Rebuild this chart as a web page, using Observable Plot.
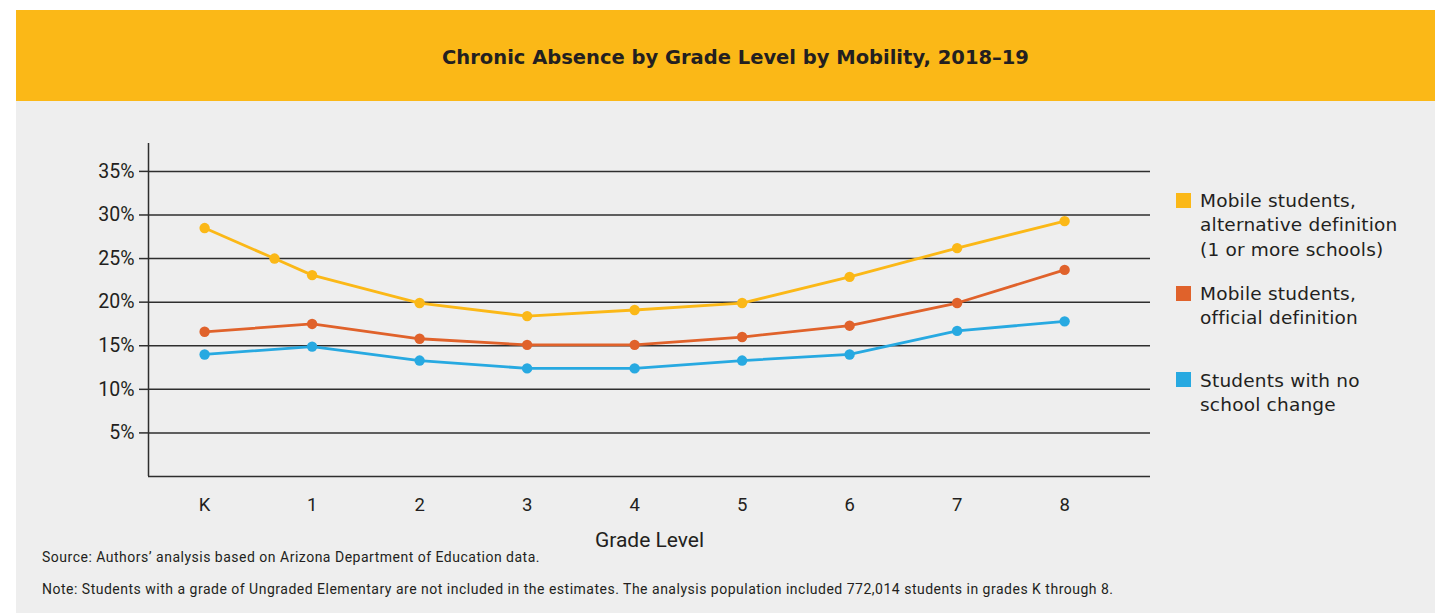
<!DOCTYPE html>
<html>
<head>
<meta charset="utf-8">
<script src="https://cdn.jsdelivr.net/npm/d3@7"></script>
<script src="https://cdn.jsdelivr.net/npm/@observablehq/plot@0.6"></script>
<style>
  html, body { margin: 0; padding: 0; background: #ffffff; }
  body { position: relative; width: 1435px; height: 613px; overflow: hidden; color: #222; }
  #banner { position: absolute; left: 16px; top: 10px; width: 1440px; height: 91px; background: #FBB817; }
  #title { position: absolute; left: 735.5px; top: 57px; transform: translate(-50%, -50%); white-space: nowrap;
           font-family: "DejaVu Sans", sans-serif; font-weight: bold; font-size: 19.5px; color: #231f20; }
  #panel { position: absolute; left: 16px; top: 101px; width: 1440px; height: 520px; background: #EEEEEE; }
  #chart { position: absolute; left: 0; top: 101px; }
  .legend-item { position: absolute; left: 1176px; font-family: "DejaVu Sans", sans-serif; font-size: 18.5px;
                 line-height: 24.3px; letter-spacing: 0.2px; color: #231f20; }
  .legend-item .swatch { position: absolute; left: 0; width: 15px; height: 15px; top: 3.6px; }
  .legend-item .label { margin-left: 24px; }
  .note { position: absolute; left: 42px; font-family: Roboto, sans-serif; font-size: 14px; letter-spacing: 0.5px;
          color: #231f20; white-space: nowrap; }
</style>
</head>
<body>
<div id="banner"></div>
<div id="panel"></div>
<div id="title">Chronic Absence by Grade Level by Mobility, 2018–19</div>
<div id="chart"></div>
<div id="legend"></div>
<div class="note" style="top: 549px;">Source: Authors’ analysis based on Arizona Department of Education data.</div>
<div class="note" style="top: 581px;">Note: Students with a grade of Ungraded Elementary are not included in the estimates. The analysis population included 772,014 students in grades K through 8.</div>
<script>
// Grade levels along the x axis
const grades = ["K", "1", "2", "3", "4", "5", "6", "7", "8"];

// Chronic absence rate (%) by grade for each mobility group
const altDefinition = [28.5, 23.1, 19.9, 18.4, 19.1, 19.9, 22.9, 26.2, 29.3];
const officialDefinition = [16.6, 17.5, 15.8, 15.1, 15.1, 16.0, 17.3, 19.9, 23.7];
const noSchoolChange = [14.0, 14.9, 13.3, 12.4, 12.4, 13.3, 14.0, 16.7, 17.8];

// An additional marker on the alternative-definition line, between K and grade 1
const altExtraGrade = 0.65;
const altExtraValue = 25.0;

// Y-axis tick values (%)
const yTicks = [5, 10, 15, 20, 25, 30, 35];

// Series names (legend order) and their colours
const seriesNames = [
  "Mobile students, alternative definition (1 or more schools)",
  "Mobile students, official definition",
  "Students with no school change"
];
const seriesLegendLines = [
  ["Mobile students,", "alternative definition", "(1 or more schools)"],
  ["Mobile students,", "official definition"],
  ["Students with no", "school change"]
];
const seriesColors = ["#FBB817", "#E0622B", "#27A9E1"];

// Long-format table for Plot
const seriesValues = [altDefinition, officialDefinition, noSchoolChange];
const rows = [];
seriesValues.forEach((values, s) => {
  values.forEach((v, i) => rows.push({ series: seriesNames[s], grade: i, value: v }));
});
rows.push({ series: seriesNames[0], grade: altExtraGrade, value: altExtraValue });
rows.sort((a, b) => a.grade - b.grade);

// Draw back to front: no change, official, alternative
const drawOrder = [seriesNames[2], seriesNames[1], seriesNames[0]];
const ordered = drawOrder.flatMap(name => rows.filter(r => r.series === name));

const axisColor = "#2e2e2e";
const xDomain = [-0.522, 8.799];
const yDomain = [0, 38.2];

const chart = Plot.plot({
  width: 1160,
  height: 460,
  marginLeft: 148,
  marginRight: 10,
  marginTop: 42,
  marginBottom: 85,
  style: { background: "transparent", fontFamily: "Roboto, sans-serif", color: "#231f20", overflow: "visible" },
  x: { type: "linear", domain: xDomain },
  y: { domain: yDomain },
  color: { domain: seriesNames, range: seriesColors },
  marks: [
    Plot.ruleY(yTicks, { stroke: axisColor, strokeWidth: 1.5 }),
    Plot.ruleY([0], { stroke: axisColor, strokeWidth: 1.5 }),
    Plot.ruleX([xDomain[0]], { stroke: axisColor, strokeWidth: 1.5, y1: yDomain[0], y2: yDomain[1] }),
    Plot.axisY(yTicks, {
      tickSize: 9, tickPadding: 5, fontSize: 19.5, stroke: axisColor, strokeWidth: 1.5,
      tickFormat: d => d + "%", label: null
    }),
    Plot.axisX(d3.range(grades.length), {
      tickSize: 0, tickPadding: 21, fontSize: 18.5,
      tickFormat: i => grades[i], label: null
    }),
    Plot.text(["Grade Level"], { frameAnchor: "bottom", dy: 70, fontSize: 21, fill: "#231f20" }),
    Plot.line(ordered, { x: "grade", y: "value", z: "series", stroke: "series", strokeWidth: 2.8 }),
    Plot.dot(ordered, { x: "grade", y: "value", fill: "series", r: 5.2 })
  ]
});
document.getElementById("chart").appendChild(chart);

// Legend to the right of the plot
const legendTops = [189.2, 282.1, 368.7];
const legend = document.getElementById("legend");
seriesNames.forEach((name, s) => {
  const item = document.createElement("div");
  item.className = "legend-item";
  item.style.top = legendTops[s] + "px";
  const sw = document.createElement("div");
  sw.className = "swatch";
  sw.style.background = seriesColors[s];
  item.appendChild(sw);
  const label = document.createElement("div");
  label.className = "label";
  label.innerHTML = seriesLegendLines[s].join("<br>");
  item.appendChild(label);
  legend.appendChild(item);
});
</script>
</body>
</html>
